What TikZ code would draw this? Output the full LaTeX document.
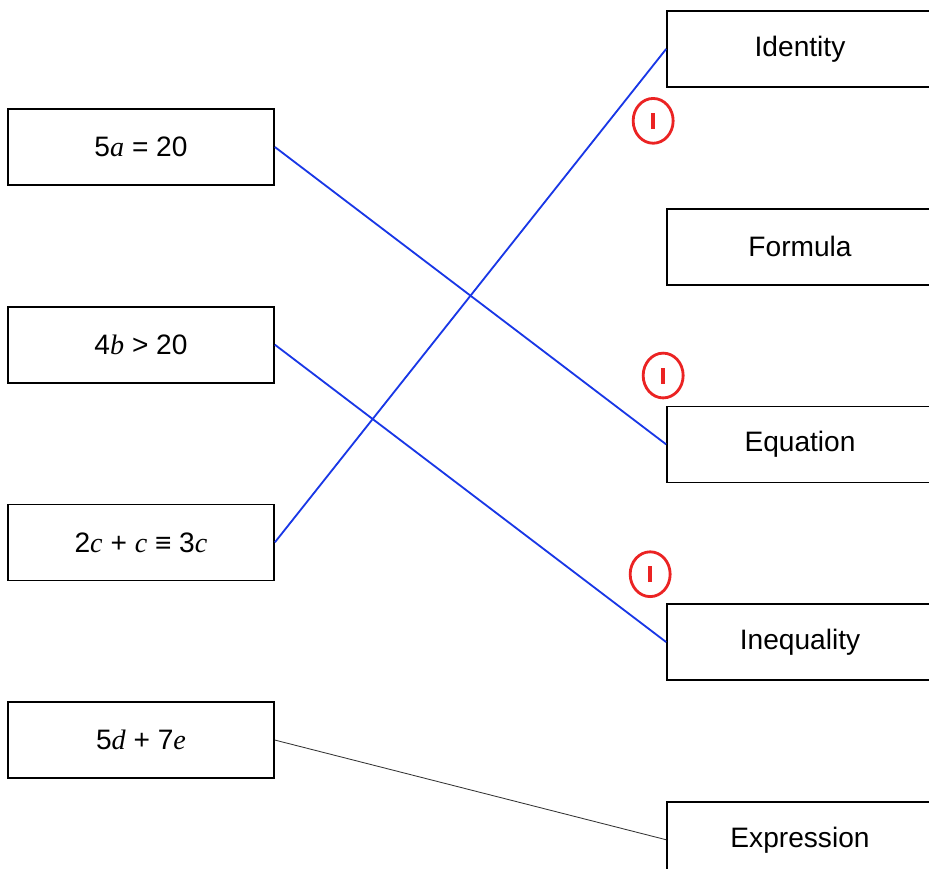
\documentclass[tikz,border=0pt]{standalone}
\usepackage{fontspec}
\setmainfont{Liberation Sans}
\newfontfamily\timesfont{Liberation Serif}
\usetikzlibrary{positioning, shapes.geometric}
\definecolor{matchblue}{RGB}{25,55,230}
\definecolor{markred}{RGB}{235,35,35}
\newcommand{\var}[1]{{\timesfont\itshape #1}}

\begin{document}
\begin{tikzpicture}[
		box/.style={draw, line width=1.2pt, minimum width=6.65cm, minimum height=1.9cm, font=\fontsize{20}{24}\selectfont},
		match/.style={matchblue, line width=1.3pt},
		ticked/.style={ellipse, draw=markred, line width=2pt, minimum width=1cm, minimum height=1.12cm, inner sep=0pt},
		node distance=3cm
	]
	\useasboundingbox (0,0) rectangle (23.225,21.725);
	
	% Left column: the statements
	\node[box] (a) at (3.525,18.05) {5\var{a} = 20};
	\node[box, below=of a] (b) {4\var{b} > 20};
	\node[box, below=of b] (c) {2\var{c} + \var{c} ≡ 3\var{c}};
	\node[box, below=of c] (d) {5\var{d} + 7\var{e}};
	
	% Right column: the names
	\node[box] (id) at (20,20.5) {Identity};
	\node[box, below=of id] (fo) {Formula};
	\node[box, below=of fo] (eq) {Equation};
	\node[box, below=of eq] (ineq) {Inequality};
	\node[box, below=of ineq] (ex) {Expression};
	
	% Matching lines
	\draw[match] (a.east) -- (eq.west);
	\draw[match] (b.east) -- (ineq.west);
	\draw[match] (c.east) -- (id.west);
	\draw[black!80, line width=0.6pt] (d.east) -- (ex.west);
	
	% Marks
	\node[ticked] (m1) at ([shift={(-0.325,-0.825)}]id.south west) {\color{markred}\rule{2.6pt}{0.4cm}};
	\node[ticked] (m2) at ([shift={(-0.075,0.75)}]eq.north west) {\color{markred}\rule{2.6pt}{0.4cm}};
	\node[ticked] (m3) at ([shift={(-0.4,0.725)}]ineq.north west) {\color{markred}\rule{2.6pt}{0.4cm}};
\end{tikzpicture}
\end{document}
